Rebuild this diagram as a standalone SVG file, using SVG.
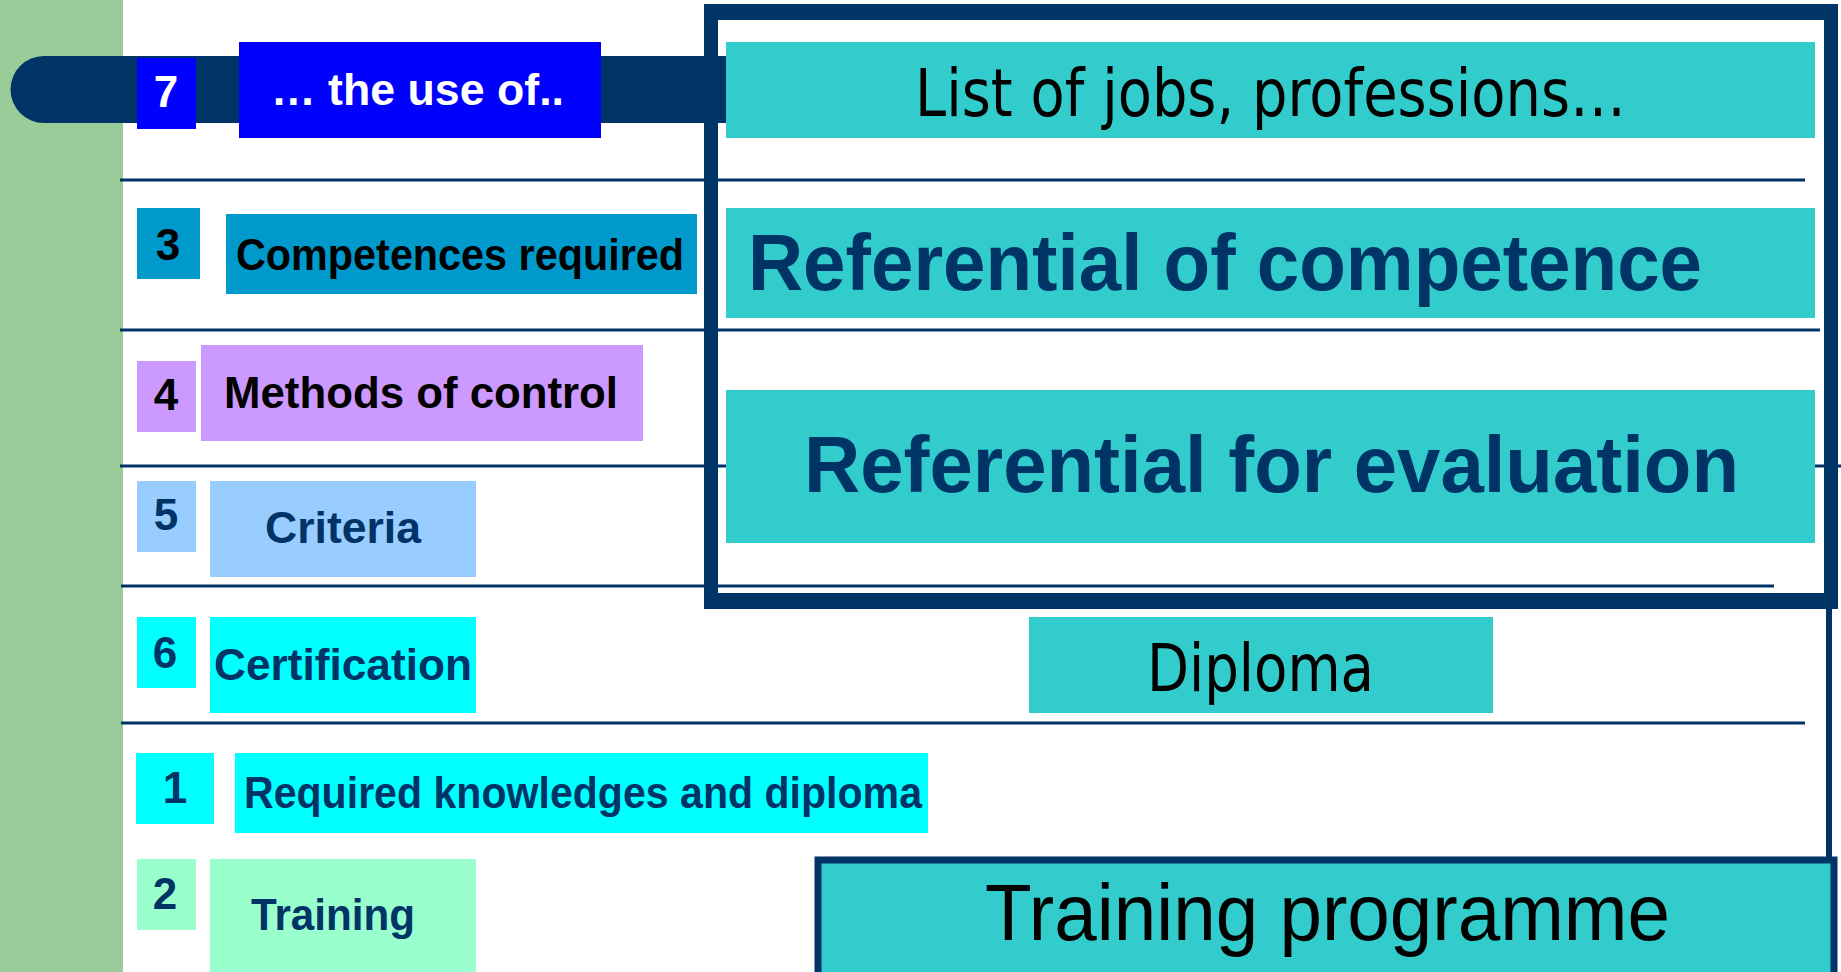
<svg xmlns="http://www.w3.org/2000/svg" width="1841" height="972" viewBox="0 0 1841 972">
<style>
.num{font-family:"Liberation Sans",Arial,sans-serif;font-weight:bold;font-size:44px;text-anchor:middle}
.lbl{font-family:"Liberation Sans",Arial,sans-serif;font-weight:bold;font-size:44px}
.big{font-family:"Liberation Sans",Arial,sans-serif;font-weight:bold;font-size:80px;fill:#003366}
.tah{font-family:"DejaVu Sans",Verdana,sans-serif;fill:#000}
.rule{stroke:#003366;stroke-width:3;fill:none}
.teal{fill:#33CCCC}
.navy{fill:#003366}
</style>
<rect x="0" y="0" width="1841" height="972" fill="#ffffff"/>
<rect x="0" y="0" width="123" height="972" fill="#99CC99"/>
<g id="rules">
<line class="rule" x1="120" y1="180" x2="1805" y2="180"/>
<line class="rule" x1="120" y1="330" x2="1820" y2="330"/>
<line class="rule" x1="120" y1="466" x2="1841" y2="466"/>
<line class="rule" x1="121" y1="586" x2="1774" y2="586"/>
<line class="rule" x1="121" y1="723" x2="1805" y2="723"/>
<line x1="1829" y1="605" x2="1829" y2="860" stroke="#003366" stroke-width="6"/>
</g>
<g id="bar">
<path class="navy" d="M44 56 H760 V123 H44 A33 33 0 0 1 44 56 Z"/>
</g>
<g id="frame">
<rect x="711" y="12" width="1120" height="589" fill="none" stroke="#003366" stroke-width="14"/>
<rect x="704" y="4" width="1134" height="16" class="navy"/>
<rect x="704" y="593" width="1134" height="16" class="navy"/>
</g>
<g id="n7">
<rect x="137" y="58" width="59" height="71" fill="#0000FF"/>
<text class="num" x="166" y="107" fill="#ffffff">7</text>
</g>
<g id="use">
<rect x="239" y="42" width="362" height="96" fill="#0000FF"/>
<text class="lbl" x="271" y="105" fill="#ffffff" textLength="293" lengthAdjust="spacingAndGlyphs">… the use of..</text>
</g>
<g id="jobs">
<rect class="teal" x="726" y="42" width="1089" height="96"/>
<text class="tah" x="915" y="116" font-size="66" textLength="711" lengthAdjust="spacingAndGlyphs">List of jobs, professions…</text>
</g>
<g id="n3">
<rect x="137" y="208" width="63" height="71" fill="#0099CC"/>
<text class="num" x="168" y="260" fill="#000">3</text>
</g>
<g id="competences">
<rect x="226" y="214" width="471" height="80" fill="#0099CC"/>
<text class="lbl" x="236" y="270" fill="#000" textLength="448" lengthAdjust="spacingAndGlyphs">Competences required</text>
</g>
<g id="refcomp">
<rect class="teal" x="726" y="208" width="1089" height="110"/>
<text class="big" x="748" y="290" textLength="954" lengthAdjust="spacingAndGlyphs">Referential of competence</text>
</g>
<g id="n4">
<rect x="137" y="361" width="59" height="71" fill="#CC99FF"/>
<text class="num" x="166" y="410" fill="#000">4</text>
</g>
<g id="methods">
<rect x="201" y="345" width="442" height="96" fill="#CC99FF"/>
<text class="lbl" x="224" y="408" fill="#000" textLength="394" lengthAdjust="spacingAndGlyphs">Methods of control</text>
</g>
<g id="refeval">
<rect class="teal" x="726" y="390" width="1089" height="153"/>
<text class="big" x="804" y="492" textLength="935" lengthAdjust="spacingAndGlyphs">Referential for evaluation</text>
</g>
<g id="n5">
<rect x="137" y="481" width="59" height="71" fill="#99CCFF"/>
<text class="num" x="166" y="530" fill="#003366">5</text>
</g>
<g id="criteria">
<rect x="210" y="481" width="266" height="96" fill="#99CCFF"/>
<text class="lbl" x="265" y="543" fill="#003366" textLength="156" lengthAdjust="spacingAndGlyphs">Criteria</text>
</g>
<g id="n6">
<rect x="137" y="617" width="59" height="71" fill="#00FFFF"/>
<text class="num" x="165" y="668" fill="#003366">6</text>
</g>
<g id="certification">
<rect x="210" y="617" width="266" height="96" fill="#00FFFF"/>
<text class="lbl" x="214" y="680" fill="#003366" textLength="258" lengthAdjust="spacingAndGlyphs">Certification</text>
</g>
<g id="diploma">
<rect class="teal" x="1029" y="617" width="464" height="96"/>
<text class="tah" x="1147" y="691" font-size="66" textLength="227" lengthAdjust="spacingAndGlyphs">Diploma</text>
</g>
<g id="n1">
<rect x="136" y="753" width="78" height="71" fill="#00FFFF"/>
<text class="num" x="175" y="803" fill="#003366">1</text>
</g>
<g id="required">
<rect x="235" y="753" width="693" height="80" fill="#00FFFF"/>
<text class="lbl" x="244" y="808" fill="#003366" textLength="678" lengthAdjust="spacingAndGlyphs">Required knowledges and diploma</text>
</g>
<g id="n2">
<rect x="137" y="859" width="59" height="71" fill="#99FFCC"/>
<text class="num" x="165" y="909" fill="#003366">2</text>
</g>
<g id="training">
<rect x="210" y="859" width="266" height="113" fill="#99FFCC"/>
<text class="lbl" x="251" y="930" fill="#003366" textLength="164" lengthAdjust="spacingAndGlyphs">Training</text>
</g>
<g id="programme">
<rect x="818" y="860" width="1016" height="116" class="teal" stroke="#003366" stroke-width="7"/>
<text x="985" y="940" font-family="Liberation Sans, Arial, sans-serif" font-size="80" fill="#000" textLength="685" lengthAdjust="spacingAndGlyphs">Training programme</text>
</g>
</svg>
